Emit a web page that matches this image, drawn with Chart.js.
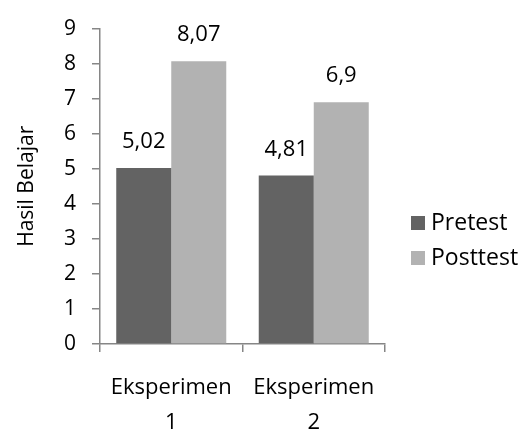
<!DOCTYPE html>
<html>
<head>
<meta charset="utf-8">
<script src="https://cdn.jsdelivr.net/npm/chart.js@4"></script>
<style>
    html, body { margin: 0; padding: 0; background: #fff; }
    #wrap { width: 527px; height: 431px; position: relative; }
</style>
</head>
<body>
<div id="wrap"><canvas id="chart-hasil-belajar"></canvas></div>
<script>
const categories = [['Eksperimen', '1'], ['Eksperimen', '2']];
const pretest = [5.02, 4.81];
const posttest = [8.07, 6.9];
const seriesNames = ['Pretest', 'Posttest'];
const seriesColors = ['#636363', '#b2b2b2'];
const yTicks = [0, 1, 2, 3, 4, 5, 6, 7, 8, 9];

const fontFamily = '"Open Sans", "Noto Sans", sans-serif';
const axisColor = '#868686';

// value labels above each bar, comma decimals
const valueLabels = {
    id: 'valueLabels',
    afterDatasetsDraw(chart) {
        const ctx = chart.ctx;
        ctx.save();
        ctx.font = '22px ' + fontFamily;
        ctx.fillStyle = '#000';
        ctx.textAlign = 'center';
        ctx.textBaseline = 'middle';
        chart.data.datasets.forEach((ds, i) => {
            chart.getDatasetMeta(i).data.forEach((bar, j) => {
                ctx.fillText(String(ds.data[j]).replace('.', ','), bar.x, bar.y - 26);
            });
        });
        ctx.restore();
    }
};

// legend on the right, square markers
const sideLegend = {
    id: 'sideLegend',
    afterDraw(chart) {
        const ctx = chart.ctx;
        ctx.save();
        ctx.font = '23px ' + fontFamily;
        ctx.textBaseline = 'middle';
        ctx.textAlign = 'left';
        chart.data.datasets.forEach((ds, i) => {
            const y = 223 + i * 35;
            ctx.fillStyle = ds.backgroundColor;
            ctx.fillRect(411, y - 7, 14, 14);
            ctx.fillStyle = '#000';
            ctx.fillText(ds.label, 431, y);
        });
        ctx.restore();
    }
};

new Chart(document.getElementById('chart-hasil-belajar'), {
    type: 'bar',
    data: {
        labels: categories,
        datasets: [
            { label: seriesNames[0], data: pretest, backgroundColor: seriesColors[0] },
            { label: seriesNames[1], data: posttest, backgroundColor: seriesColors[1] }
        ]
    },
    options: {
        responsive: true,
        maintainAspectRatio: false,
        animation: false,
        layout: { padding: { left: 0, right: 142, top: 27, bottom: 0 } },
        datasets: { bar: { categoryPercentage: 0.772, barPercentage: 1.0 } },
        plugins: {
            legend: { display: false },
            tooltip: { enabled: false }
        },
        scales: {
            x: {
                border: { color: axisColor, width: 1.5 },
                grid: { drawOnChartArea: false, drawTicks: true, tickLength: 8, color: axisColor, lineWidth: 1.5 },
                ticks: {
                    color: '#000',
                    padding: 18,
                    maxRotation: 0,
                    font: { family: fontFamily, size: 22, lineHeight: 1.59 }
                },
                afterFit: (scale) => { scale.height = 87; }
            },
            y: {
                min: 0,
                max: 9,
                afterBuildTicks: (scale) => { scale.ticks = yTicks.map(v => ({ value: v })); },
                border: { color: axisColor, width: 1.5 },
                grid: { drawOnChartArea: false, drawTicks: true, tickLength: 8, color: axisColor, lineWidth: 1.5 },
                ticks: {
                    color: '#000',
                    padding: 16,
                    font: { family: fontFamily, size: 21 }
                },
                title: {
                    display: true,
                    text: 'Hasil Belajar',
                    color: '#000',
                    padding: { top: 14, bottom: 0 },
                    font: { family: fontFamily, size: 21 }
                },
                afterFit: (scale) => { scale.width = 100; }
            }
        }
    },
    plugins: [valueLabels, sideLegend]
});
</script>
</body>
</html>
